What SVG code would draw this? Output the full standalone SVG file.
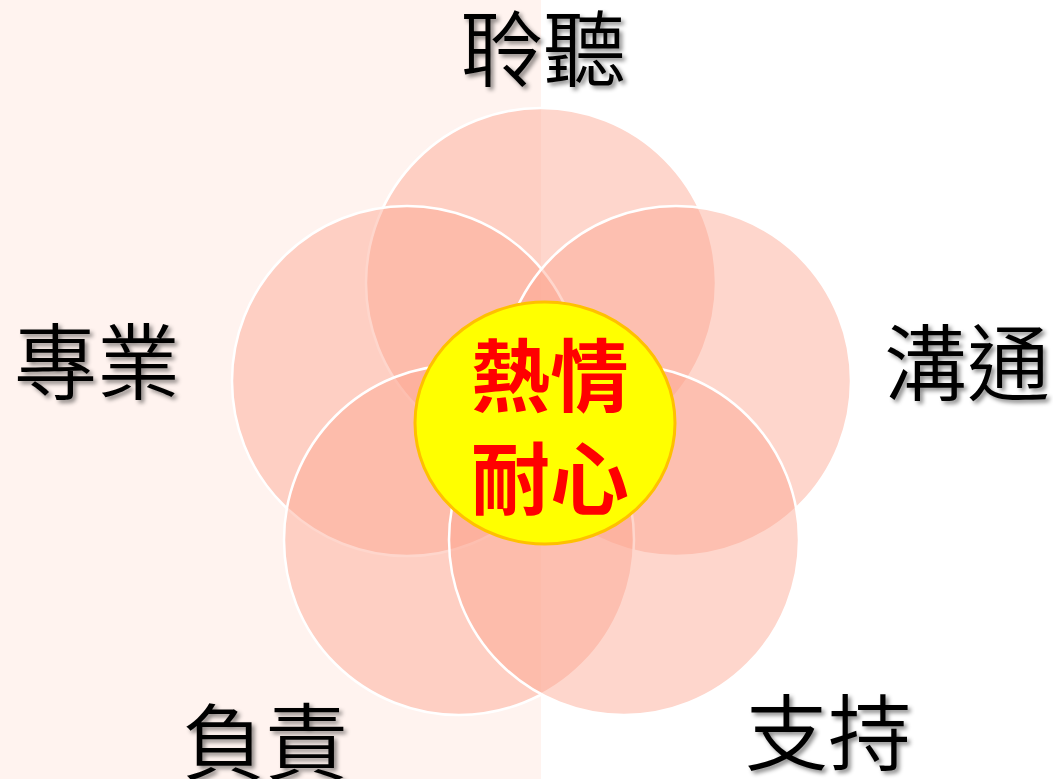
<svg xmlns="http://www.w3.org/2000/svg" width="1053" height="779" viewBox="0 0 1053 779">
<defs>
<filter id="sh" x="-20%" y="-20%" width="140%" height="140%">
<feDropShadow dx="3" dy="3" stdDeviation="2" flood-color="#000" flood-opacity="0.45"/>
</filter>
<style>
.petal{fill:#FCA38F;fill-opacity:0.45;stroke:#FFFFFF;stroke-width:2.5}
.lbl{font-family:"Noto Sans CJK TC","Noto Sans CJK SC",sans-serif;font-size:83px;font-weight:350;fill:#000;text-anchor:middle;filter:url(#sh)}
.ctr{font-family:"Noto Sans CJK TC","Noto Sans CJK SC",sans-serif;font-size:79px;font-weight:bold;fill:#FF0000;text-anchor:middle}
</style>
</defs>
<rect x="0" y="0" width="1053" height="779" fill="#FFFFFF"/>
<rect x="0" y="0" width="541" height="779" fill="#FFF3EF"/>
<g id="petals">
<g id="c-listen"><circle class="petal" cx="541" cy="283" r="175"/></g>
<g id="c-prof"><circle class="petal" cx="407" cy="381" r="175"/></g>
<g id="c-comm"><circle class="petal" cx="676" cy="381" r="175"/></g>
<g id="c-resp"><circle class="petal" cx="459" cy="540" r="175"/></g>
<g id="c-supp"><circle class="petal" cx="624" cy="540" r="175"/></g>
</g>
<g id="center">
<ellipse cx="545" cy="423" rx="130" ry="121" fill="#FFFF00" stroke="#FFC000" stroke-width="3"/>
<text class="ctr" x="550" y="406">熱情</text>
<text class="ctr" x="550" y="509">耐心</text>
</g>
<g id="labels">
<g id="n-listen"><text class="lbl" x="543" y="80">聆聽</text></g>
<g id="n-prof"><text class="lbl" x="97" y="393">專業</text></g>
<g id="n-comm"><text class="lbl" x="967" y="394">溝通</text></g>
<g id="n-resp"><text class="lbl" x="265" y="773">負責</text></g>
<g id="n-supp"><text class="lbl" x="828" y="764">支持</text></g>
</g>
<g id="connectors"/>
</svg>
